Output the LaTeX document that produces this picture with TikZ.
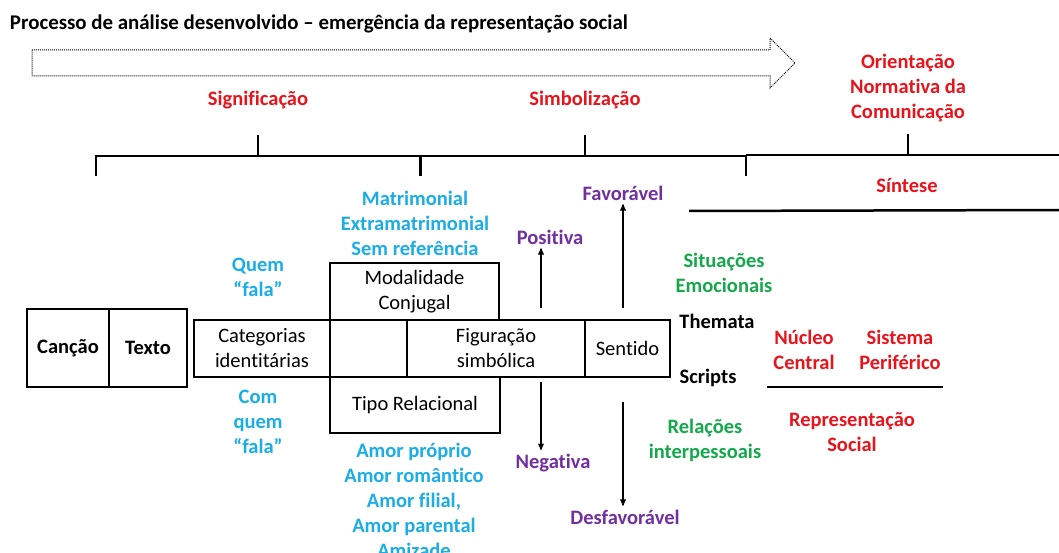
\documentclass[tikz,border=0pt]{standalone}
\usepackage{fontspec}
\setmainfont{Carlito}[Ligatures=NoCommon]
\usetikzlibrary{arrows}
\definecolor{redtxt}{HTML}{E8141C}
\definecolor{bluetxt}{HTML}{1AADE6}
\definecolor{purpletxt}{HTML}{7030A0}
\definecolor{greentxt}{HTML}{14A84A}
\tikzset{cell/.style={draw,line width=1.5pt,inner sep=0pt,minimum height=57pt,align=center,font=\fontsize{20.5}{25}\selectfont},
  lab/.style={align=center,font=\bfseries\fontsize{20.5}{25}\selectfont},
}

\begin{document}
\begin{tikzpicture}[x=1pt,y=-1pt,>=stealth',line width=1.3pt]
		\useasboundingbox (0,0) rectangle (1059,553);
		
		\node[lab,anchor=west,font=\bfseries\fontsize{20.9}{25}\selectfont] (title) at (6,24) {Processo de análise desenvolvido – emergência da representação social};
		\draw[densely dotted,line width=1pt] (32,50) -- (770,50) -- (770,38) -- (795,63) -- (770,88) -- (770,76) -- (32,76) -- cycle;
		
		\node[lab,text=redtxt] (signif) at (258,100) {Significação};
		\node[lab,text=redtxt] (simbol) at (585,100) {Simbolização};
		\node[lab,text=redtxt] (orient) at (908,88) {Orientação\\Normativa da\\Comunicação};
		
		% brackets
		\draw (96,176) -- (96,156) -- (420,156);
		\draw (258,135) -- (258,156);
		\draw[line width=3pt] (420,156) -- (420,176);
		\draw (420,156) -- (746,156) -- (746,176);
		\draw (585,135) -- (585,156);
		\draw (746,155) -- (1059,155);
		\draw (908,134) -- (908,155);
		
		\node[lab,text=redtxt] (sintese) at (907,185) {Síntese};
		\draw[line width=2.5pt] (689,211) -- (1059,210);
		
		\node[cell,minimum width=82pt,minimum height=78pt,font=\bfseries\fontsize{20.5}{25}\selectfont] (cancao) at (68,348) {Canção};
		\node[cell,minimum width=78pt,minimum height=78pt,font=\bfseries\fontsize{20.5}{25}\selectfont] (texto) at (148,348) {Texto};
		\node[cell,minimum width=136pt] (categ) at (262,348.5) {Categorias\\identitárias};
		\node[cell,minimum width=77pt] (vazio) at (368.5,348.5) {};
		\node[cell,minimum width=169pt] (modal) at (414.5,291.5) {Modalidade\\Conjugal};
		\node[cell,minimum width=170pt,minimum height=56pt] (tipo) at (415,405) {Tipo Relacional};
		\node[cell,minimum width=178pt] (figur) at (496,348.5) {Figuração\\simbólica};
		\node[cell,minimum width=85pt] (sentido) at (627.5,348.5) {Sentido};
		
		\node[lab,text=bluetxt] (quem) at (258,277) {Quem\\“fala”};
		\node[lab,text=bluetxt] (comquem) at (258,422) {Com\\quem\\“fala”};
		\node[lab,text=bluetxt] (matrim) at (415,223) {Matrimonial\\Extramatrimonial\\Sem referência};
		\node[lab,text=bluetxt] (amor) at (414,500) {Amor próprio\\Amor romântico\\Amor filial,\\Amor parental\\Amizade};
		
		\node[lab,text=purpletxt] (positiva) at (550,237) {Positiva};
		\node[lab,text=purpletxt] (negativa) at (553,463) {Negativa};
		\node[lab,text=purpletxt] (favor) at (623,193) {Favorável};
		\node[lab,text=purpletxt] (desfavor) at (625,517) {Desfavorável};
		
		\coordinate (pos0) at (541,308);
		\coordinate (neg0) at (541,382);
		\coordinate (fav0) at (623,308);
		\coordinate (des0) at (623,402);
		\draw[->] (pos0) -- (pos0 |- positiva.south);
		\draw[->] (neg0) -- (neg0 |- negativa.north);
		\draw[->] (fav0) -- (fav0 |- favor.south);
		\draw[->] (des0) -- (des0 |- desfavor.north);
		
		\node[lab,text=greentxt] (situac) at (724,273) {Situações\\Emocionais};
		\node[lab,text=greentxt] (relac) at (705,440) {Relações\\interpessoais};
		\node[lab] (themata) at (717,321) {Themata};
		\node[lab] (scripts) at (708,378) {Scripts};
		
		\node[lab,text=redtxt] (nucleo) at (804,350) {Núcleo\\Central};
		\node[lab,text=redtxt] (sistema) at (900,350) {Sistema\\Periférico};
		\draw[line width=2.5pt] (767,387) -- (943,387);
		\node[lab,text=redtxt] (repres) at (852,432) {Representação\\Social};
		\end{tikzpicture}
\end{document}
